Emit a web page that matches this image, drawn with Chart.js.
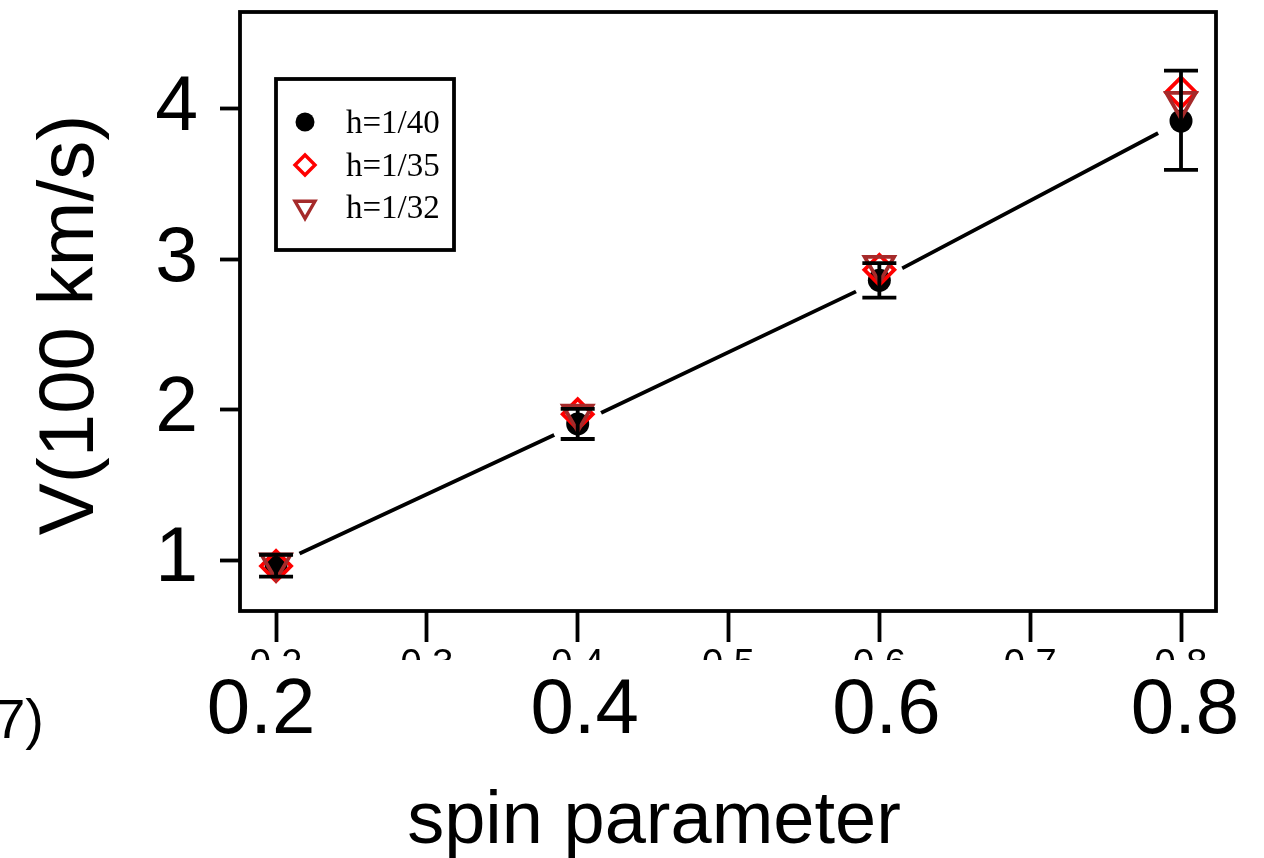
<!DOCTYPE html>
<html>
<head>
<meta charset="utf-8">
<title>V vs spin parameter</title>
<script src="https://cdn.jsdelivr.net/npm/chart.js@4.4.1/dist/chart.umd.min.js"></script>
<style>
    html, body { margin: 0; padding: 0; background: #fff; }
    canvas { display: block; }
</style>
</head>
<body>
<canvas id="velocity-chart" width="1264" height="858"></canvas>
<script>
// spin parameter of each run
const spinValues = [0.2, 0.4, 0.6, 0.8];

// V in units of 100 km/s, one array per resolution
const velocityH40 = [0.97, 1.905, 2.86, 3.92];
const velocityH35 = [0.96, 1.97, 2.93, 4.11];
const velocityH32 = [0.98, 1.97, 2.96, 4.05];

// error bar limits of the h=1/40 run
const errLowH40 = [0.89, 1.805, 2.745, 3.595];
const errHighH40 = [1.035, 2.005, 2.975, 4.255];

const seriesLabels = ['h=1/40', 'h=1/35', 'h=1/32'];

// tick labels
const xTickValues = [0.2, 0.3, 0.4, 0.5, 0.6, 0.7, 0.8];
const yTickValues = [1, 2, 3, 4];
const bigXLabels = ['0.2', '0.4', '0.6', '0.8'];
const bigXValues = [0.2, 0.4, 0.6, 0.8];

const SANS = "'Liberation Sans', Arial, Helvetica, sans-serif";
const SERIF = "'Liberation Serif', 'Times New Roman', serif";
const BROWN = '#a52a2a';
const LW = 3.8;

const toPoints = function (ys) {
    return spinValues.map((x, i) => ({ x: x, y: ys[i] }));
};

// white gaps around the points of the connecting line (like R type="b")
const lineGaps = {
    id: 'lineGaps',
    afterDatasetDraw: function (chart, args) {
        if (args.index !== 0) {
            return;
        }
        const ctx = chart.ctx;
        const xs = chart.scales.x, ys = chart.scales.y;
        ctx.save();
        ctx.fillStyle = '#fff';
        for (let i = 0; i < spinValues.length; i++) {
            ctx.beginPath();
            ctx.arc(xs.getPixelForValue(spinValues[i]), ys.getPixelForValue(velocityH40[i]), 26, 0, Math.PI * 2);
            ctx.fill();
        }
        ctx.restore();
    }
};

const errorBars = {
    id: 'errorBars',
    afterDatasetsDraw: function (chart) {
        const ctx = chart.ctx;
        const xs = chart.scales.x, ys = chart.scales.y;
        const cap = 17;
        ctx.save();
        ctx.strokeStyle = '#000';
        ctx.lineWidth = LW;
        for (let i = 0; i < spinValues.length; i++) {
            const px = xs.getPixelForValue(spinValues[i]);
            const lo = ys.getPixelForValue(errLowH40[i]);
            const hi = ys.getPixelForValue(errHighH40[i]);
            ctx.beginPath();
            ctx.moveTo(px, lo); ctx.lineTo(px, hi);
            ctx.moveTo(px - cap, lo); ctx.lineTo(px + cap, lo);
            ctx.moveTo(px - cap, hi); ctx.lineTo(px + cap, hi);
            ctx.stroke();
        }
        ctx.restore();
    }
};

// frame, legend and the large axis labels
const decorations = {
    id: 'decorations',
    afterDraw: function (chart) {
        const ctx = chart.ctx;
        const area = chart.chartArea;
        const xs = chart.scales.x;
        ctx.save();

        ctx.strokeStyle = '#000';
        ctx.lineWidth = LW;
        ctx.strokeRect(area.left, area.top, area.right - area.left, area.bottom - area.top);

        // the small tick labels are half hidden under the large ones
        ctx.fillStyle = '#fff';
        ctx.fillRect(0, 660, chart.width, chart.height - 660);

        ctx.fillStyle = '#000';
        ctx.textAlign = 'center';
        ctx.textBaseline = 'alphabetic';
        ctx.font = '78px ' + SANS;
        const nudge = [-15, 7, 7, 4];
        for (let i = 0; i < bigXLabels.length; i++) {
            ctx.fillText(bigXLabels[i], xs.getPixelForValue(bigXValues[i]) + nudge[i], 733);
        }
        ctx.font = '74px ' + SANS;
        ctx.fillText('spin parameter', 654, 843);

        ctx.textAlign = 'right';
        ctx.font = '56px ' + SANS;
        ctx.fillText('7)', 44, 738);

        ctx.save();
        ctx.translate(93, 325);
        ctx.rotate(-Math.PI / 2);
        ctx.textAlign = 'center';
        ctx.font = '78px ' + SANS;
        ctx.fillText('V(100 km/s)', 0, 0);
        ctx.restore();

        // legend
        ctx.lineWidth = LW;
        ctx.strokeStyle = '#000';
        ctx.strokeRect(276, 79, 178, 171);
        const rows = [122, 165, 207];
        const markers = [
            { pointStyle: 'circle', radius: 9.5, rotation: 0, borderWidth: 0, fill: '#000', stroke: '#000' },
            { pointStyle: 'rectRot', radius: 10, rotation: 0, borderWidth: 3.4, fill: 'rgba(0,0,0,0)', stroke: '#ff0000' },
            { pointStyle: 'triangle', radius: 11.5, rotation: 180, borderWidth: 3.4, fill: 'rgba(0,0,0,0)', stroke: BROWN }
        ];
        ctx.font = '33px ' + SERIF;
        ctx.textAlign = 'left';
        for (let i = 0; i < rows.length; i++) {
            ctx.fillStyle = markers[i].fill;
            ctx.strokeStyle = markers[i].stroke;
            ctx.lineWidth = markers[i].borderWidth;
            Chart.helpers.drawPoint(ctx, markers[i], 305, rows[i]);
            ctx.fillStyle = '#000';
            ctx.fillText(seriesLabels[i], 346, rows[i] + 11);
        }
        ctx.restore();
    }
};

// keep the plot box fixed: no extra room for half labels at the axis ends
const noEdgePadding = function (scale) {
    scale.paddingTop = 0;
    scale.paddingBottom = 0;
    scale.paddingLeft = 0;
    scale.paddingRight = 0;
};

new Chart(document.getElementById('velocity-chart'), {
    type: 'scatter',
    data: {
        datasets: [
            {
                label: 'line',
                data: toPoints(velocityH40),
                showLine: true,
                borderColor: '#000',
                borderWidth: LW,
                pointRadius: 0,
                order: 10
            },
            {
                label: seriesLabels[0],
                data: toPoints(velocityH40),
                pointStyle: 'circle',
                pointRadius: 11.5,
                backgroundColor: '#000',
                borderWidth: 0,
                order: 3
            },
            {
                label: seriesLabels[1],
                data: toPoints(velocityH35),
                pointStyle: 'rectRot',
                pointRadius: 15,
                backgroundColor: 'rgba(0,0,0,0)',
                borderColor: '#ff0000',
                borderWidth: LW,
                order: 2
            },
            {
                label: seriesLabels[2],
                data: toPoints(velocityH32),
                pointStyle: 'triangle',
                pointRotation: 180,
                pointRadius: 17,
                backgroundColor: 'rgba(0,0,0,0)',
                borderColor: BROWN,
                borderWidth: LW,
                order: 1
            }
        ]
    },
    options: {
        responsive: false,
        devicePixelRatio: 1,
        animation: false,
        layout: { autoPadding: false, padding: { left: 0, right: 48, top: 12, bottom: 0 } },
        plugins: {
            legend: { display: false },
            tooltip: { enabled: false }
        },
        scales: {
            x: {
                type: 'linear',
                min: 0.1761,
                max: 0.8232,
                afterBuildTicks: function (scale) {
                    scale.ticks = xTickValues.map(v => ({ value: v }));
                },
                afterFit: function (scale) {
                    scale.height = 247;
                    noEdgePadding(scale);
                },
                border: { display: false },
                grid: { drawOnChartArea: false, drawTicks: true, tickLength: 31, tickWidth: LW, tickColor: '#000' },
                ticks: {
                    color: '#000',
                    font: { family: SANS, size: 38 },
                    padding: 1,
                    maxRotation: 0,
                    autoSkip: false,
                    callback: v => v.toFixed(1)
                }
            },
            y: {
                type: 'linear',
                min: 0.6608,
                max: 4.645,
                afterBuildTicks: function (scale) {
                    scale.ticks = yTickValues.map(v => ({ value: v }));
                },
                afterFit: function (scale) {
                    scale.width = 240;
                    noEdgePadding(scale);
                },
                border: { display: false },
                grid: { drawOnChartArea: false, drawTicks: true, tickLength: 20, tickWidth: LW, tickColor: '#000' },
                ticks: {
                    color: '#000',
                    font: { family: SANS, size: 77 },
                    padding: 22,
                    autoSkip: false,
                    callback: v => String(v)
                }
            }
        }
    },
    plugins: [lineGaps, errorBars, decorations]
});
</script>
</body>
</html>
